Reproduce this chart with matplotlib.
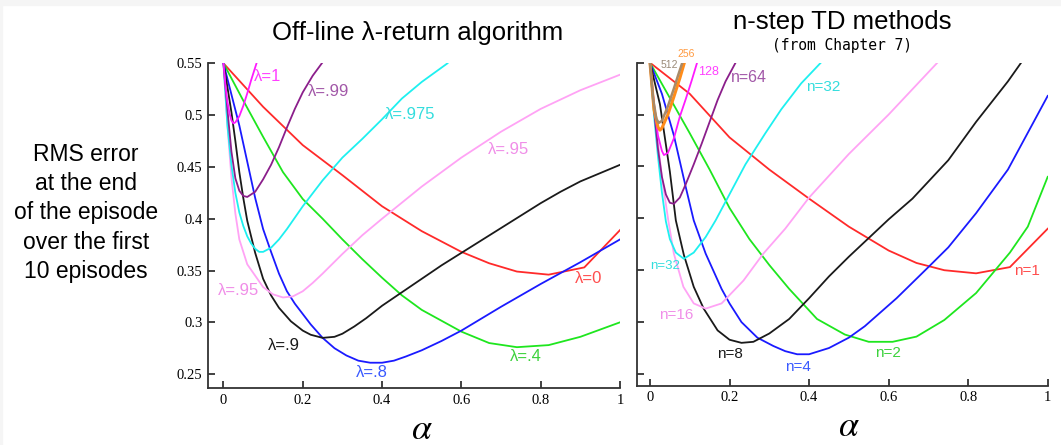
import matplotlib
matplotlib.use("Agg")
import matplotlib.pyplot as plt
from matplotlib.patches import Rectangle
from matplotlib.transforms import blended_transform_factory

# ---- data: off-line lambda-return (left panel) ----
lam0_x = [0, 0.1, 0.2, 0.3, 0.4, 0.5, 0.6, 0.67, 0.74, 0.82, 0.91, 1.0]
lam0_y = [0.55, 0.508, 0.471, 0.442, 0.412, 0.388, 0.368, 0.357, 0.349, 0.346, 0.353, 0.389]

lam04_x = [0, 0.05, 0.1, 0.15, 0.2, 0.25, 0.3, 0.35, 0.4, 0.45, 0.5, 0.6, 0.67, 0.74, 0.82, 0.9, 1.0]
lam04_y = [0.55, 0.514, 0.479, 0.445, 0.419, 0.400, 0.380, 0.361, 0.343, 0.326, 0.312, 0.291, 0.280, 0.276, 0.278, 0.286, 0.300]

lam08_x = [0, 0.02, 0.04, 0.06, 0.08, 0.1, 0.12, 0.14, 0.16, 0.18, 0.2, 0.22, 0.25, 0.28, 0.31, 0.34,
           0.37, 0.4, 0.43, 0.46, 0.5, 0.55, 0.6, 0.7, 0.8, 0.9, 1.0]
lam08_y = [0.55, 0.52, 0.49, 0.455, 0.42, 0.39, 0.368, 0.347, 0.330, 0.318, 0.308, 0.298, 0.285, 0.275, 0.268, 0.263,
           0.261, 0.261, 0.263, 0.267, 0.273, 0.282, 0.292, 0.315, 0.337, 0.358, 0.380]

lam09_x = [0, 0.01, 0.02, 0.03, 0.04, 0.05, 0.06, 0.08, 0.1, 0.12, 0.14, 0.17, 0.2, 0.22, 0.25, 0.28, 0.3,
           0.33, 0.36, 0.4, 0.45, 0.5, 0.55, 0.6, 0.65, 0.7, 0.75, 0.8, 0.85, 0.9, 0.95, 1.0]
lam09_y = [0.55, 0.527, 0.503, 0.475, 0.445, 0.42, 0.398, 0.367, 0.342, 0.326, 0.314, 0.301, 0.292, 0.288, 0.285, 0.286, 0.289,
           0.296, 0.304, 0.316, 0.329, 0.342, 0.355, 0.367, 0.379, 0.391, 0.403, 0.415, 0.426, 0.436, 0.444, 0.452]

lam095_x = [0, 0.01, 0.02, 0.03, 0.04, 0.06, 0.08, 0.1, 0.125, 0.15, 0.175, 0.2, 0.225, 0.25, 0.3, 0.35, 0.4, 0.5,
            0.6, 0.7, 0.8, 0.9, 1.0]
lam095_y = [0.55, 0.49, 0.44, 0.405, 0.38, 0.356, 0.345, 0.334, 0.327, 0.324, 0.325, 0.330, 0.338, 0.347, 0.366, 0.384,
            0.400, 0.431, 0.459, 0.484, 0.506, 0.524, 0.539]

lam0975_x = [0, 0.01, 0.02, 0.03, 0.04, 0.05, 0.06, 0.07, 0.08, 0.09, 0.1, 0.12, 0.14, 0.16, 0.18, 0.2, 0.25, 0.3, 0.35, 0.4, 0.45, 0.5, 0.565]
lam0975_y = [0.55, 0.49, 0.452, 0.425, 0.406, 0.393, 0.383, 0.376, 0.371, 0.368, 0.368, 0.372, 0.380, 0.390, 0.401, 0.412, 0.437, 0.459, 0.477, 0.496, 0.516, 0.532, 0.55]

lam099_x = [0, 0.01, 0.02, 0.03, 0.04, 0.05, 0.06, 0.08, 0.1, 0.12, 0.14, 0.16, 0.18, 0.2, 0.225, 0.25]
lam099_y = [0.55, 0.505, 0.465, 0.439, 0.427, 0.422, 0.421, 0.426, 0.438, 0.452, 0.469, 0.488, 0.506, 0.522, 0.538, 0.551]

lam1_x = [0, 0.005, 0.01, 0.015, 0.02, 0.025, 0.03, 0.04, 0.05, 0.06, 0.07, 0.085]
lam1_y = [0.55, 0.528, 0.513, 0.502, 0.495, 0.492, 0.493, 0.499, 0.509, 0.521, 0.534, 0.552]

# ---- data: n-step TD (right panel) ----
n1_x = [0, 0.1, 0.2, 0.3, 0.4, 0.5, 0.6, 0.67, 0.74, 0.82, 0.905, 1.0]
n1_y = [0.55, 0.52, 0.478, 0.447, 0.419, 0.392, 0.369, 0.357, 0.350, 0.347, 0.353, 0.390]

n2_x = [0, 0.05, 0.1, 0.15, 0.2, 0.25, 0.3, 0.35, 0.42, 0.49, 0.55, 0.61, 0.67, 0.74, 0.82, 0.905, 0.95, 1.0]
n2_y = [0.55, 0.516, 0.482, 0.447, 0.41, 0.38, 0.355, 0.332, 0.303, 0.288, 0.281, 0.281, 0.286, 0.302, 0.328, 0.367, 0.392, 0.44]

n4_x = [0, 0.03, 0.06, 0.09, 0.11, 0.14, 0.18, 0.2, 0.23, 0.27, 0.31, 0.34, 0.37, 0.4, 0.45, 0.5, 0.54, 0.62,
        0.7, 0.75, 0.82, 0.9, 1.0]
n4_y = [0.55, 0.52, 0.48, 0.43, 0.398, 0.366, 0.332, 0.318, 0.300, 0.285, 0.277, 0.272, 0.269, 0.269, 0.275, 0.285, 0.296, 0.323,
        0.353, 0.372, 0.405, 0.447, 0.518]

n8_x = [0, 0.025, 0.05, 0.065, 0.085, 0.11, 0.135, 0.17, 0.2, 0.23, 0.26, 0.3, 0.35, 0.4, 0.45, 0.5, 0.55,
        0.6, 0.66, 0.75, 0.82, 0.9, 0.935]
n8_y = [0.55, 0.51, 0.445, 0.398, 0.365, 0.334, 0.313, 0.292, 0.283, 0.280, 0.281, 0.289, 0.303, 0.323, 0.344, 0.363, 0.381,
        0.399, 0.419, 0.456, 0.493, 0.532, 0.551]

n16_x = [0, 0.015, 0.03, 0.046, 0.06, 0.084, 0.11, 0.14, 0.18, 0.235, 0.285, 0.34, 0.4, 0.5, 0.6, 0.725]
n16_y = [0.55, 0.49, 0.44, 0.398, 0.366, 0.334, 0.318, 0.313, 0.318, 0.340, 0.366, 0.390, 0.420, 0.462, 0.50, 0.551]

n32_x = [0, 0.01, 0.02, 0.03, 0.04, 0.05, 0.065, 0.085, 0.11, 0.14, 0.165, 0.19, 0.24, 0.29, 0.33, 0.38, 0.432]
n32_y = [0.55, 0.5, 0.46, 0.425, 0.397, 0.38, 0.367, 0.361, 0.367, 0.382, 0.398, 0.416, 0.452, 0.482, 0.505, 0.53, 0.551]

n64_x = [0, 0.01, 0.02, 0.03, 0.04, 0.05, 0.06, 0.075, 0.09, 0.11, 0.13, 0.15, 0.17, 0.19, 0.218]
n64_y = [0.55, 0.505, 0.467, 0.44, 0.423, 0.415, 0.414, 0.42, 0.433, 0.452, 0.472, 0.493, 0.514, 0.532, 0.552]

n128_x = [0, 0.01, 0.02, 0.03, 0.035, 0.045, 0.06, 0.075, 0.09, 0.105, 0.12]
n128_y = [0.55, 0.51, 0.48, 0.465, 0.461, 0.463, 0.477, 0.498, 0.515, 0.533, 0.552]

n256_x = [0, 0.01, 0.02, 0.025, 0.03, 0.045, 0.06, 0.075, 0.088]
n256_y = [0.55, 0.505, 0.488, 0.485, 0.487, 0.5, 0.517, 0.535, 0.552]

n512_x = [0, 0.008, 0.016, 0.022, 0.03, 0.045, 0.06, 0.07, 0.083]
n512_y = [0.55, 0.515, 0.496, 0.492, 0.494, 0.508, 0.525, 0.537, 0.552]

yticks = [0.25, 0.3, 0.35, 0.4, 0.45, 0.5, 0.55]
ytick_labels = ["0.25", "0.3", "0.35", "0.4", "0.45", "0.5", "0.55"]
xticks = [0, 0.2, 0.4, 0.6, 0.8, 1.0]
xtick_labels = ["0", "0.2", "0.4", "0.6", "0.8", "1"]

# curve labels: text, x, y
left_labels = [("λ=1", 0.11, 0.537), ("λ=.99", 0.265, 0.523), ("λ=.975", 0.471, 0.501),
               ("λ=.95", 0.72, 0.467), ("λ=.95", 0.038, 0.331), ("λ=0", 0.922, 0.342),
               ("λ=.9", 0.152, 0.278), ("λ=.8", 0.375, 0.252), ("λ=.4", 0.762, 0.267)]
right_labels = [("512", 0.049, 0.548), ("256", 0.092, 0.558), ("128", 0.147, 0.541),
                ("n=64", 0.25, 0.536), ("n=32", 0.436, 0.527), ("n=32", 0.038, 0.354),
                ("n=16", 0.067, 0.307), ("n=8", 0.201, 0.269), ("n=4", 0.373, 0.257),
                ("n=2", 0.599, 0.270), ("n=1", 0.947, 0.349)]

RED, GREEN, BLUE, BLACK = "#ff2a2a", "#1ee61e", "#1a1aff", "#1a1a1a"
PINK, CYAN, PURPLE, MAGENTA = "#ffa3f5", "#1ef0f0", "#8b1e8b", "#ff1aff"
ORANGE, TAN = "#ff8c1a", "#a88a68"

left_curves = [(lam0_x, lam0_y, RED), (lam04_x, lam04_y, GREEN), (lam08_x, lam08_y, BLUE),
               (lam09_x, lam09_y, BLACK), (lam095_x, lam095_y, PINK), (lam0975_x, lam0975_y, CYAN),
               (lam099_x, lam099_y, PURPLE), (lam1_x, lam1_y, MAGENTA)]
right_curves = [(n1_x, n1_y, RED, 1.3), (n2_x, n2_y, GREEN, 1.3), (n4_x, n4_y, BLUE, 1.3),
                (n8_x, n8_y, BLACK, 1.3), (n16_x, n16_y, PINK, 1.3), (n32_x, n32_y, CYAN, 1.3),
                (n64_x, n64_y, PURPLE, 1.3), (n128_x, n128_y, MAGENTA, 1.3),
                (n256_x, n256_y, ORANGE, 2.2), (n512_x, n512_y, TAN, 1.8)]

left_label_style = [("#ff40ff", 12), ("#a258a8", 12), ("#33dddd", 12), ("#f08ee8", 12), ("#f08ee8", 12),
                    ("#ff4d4d", 12), (BLACK, 12), ("#3a5aff", 12), ("#3cd23c", 12)]
right_label_style = [("#9a8a78", 7.5), ("#ff9a40", 7.5), ("#ff40ff", 9), ("#a258a8", 11.5),
                     ("#33dddd", 11), ("#33dddd", 9.5), ("#f08ee8", 11), (BLACK, 11),
                     ("#3a5aff", 11), ("#3cd23c", 11), ("#ff4d4d", 11)]

SANS = ["Liberation Sans", "DejaVu Sans"]
plt.rcParams["mathtext.fontset"] = "stix"

W, H = 1061, 445
fig = plt.figure(figsize=(W / 100, H / 100), dpi=100)
fig.patches.append(Rectangle((0, 1 - 5 / H), 1, 5 / H, transform=fig.transFigure, color="#f5f5f5", zorder=-1))
fig.patches.append(Rectangle((0, 0), 2 / W, 1, transform=fig.transFigure, color="#f5f5f5", zorder=-1))

ax1 = fig.add_axes([208 / W, (H - 388) / H, (620 - 208) / W, (388 - 63.3) / H])
ax2 = fig.add_axes([636.7 / W, (H - 385.7) / H, (1047.7 - 636.7) / W, (385.7 - 62.7) / H])


def style_axes(ax, xmin, ymin, show_ylabels):
    ax.set_xlim(xmin, 1.0)
    ax.set_ylim(ymin, 0.55)
    ax.patch.set_alpha(0)
    for s in ["top", "right"]:
        ax.spines[s].set_visible(False)
    for s in ["left", "bottom"]:
        ax.spines[s].set_color("#333333")
        ax.spines[s].set_linewidth(1.3)
    ax.spines["left"].set_bounds(ymin, 0.55)
    ax.set_xticks(xticks)
    ax.set_xticklabels(xtick_labels, family="Liberation Serif", fontsize=10.5)
    ax.set_yticks(yticks)
    if show_ylabels:
        ax.set_yticklabels(ytick_labels, family="Liberation Serif", fontsize=10.5)
    else:
        ax.set_yticklabels([])
    ax.tick_params(direction="in", length=5, width=1.3, color="#333333", pad=4)
    tr = blended_transform_factory(ax.transData, ax.transAxes)
    ax.text(0.5, -0.125, r"$\alpha$", transform=tr, ha="center", va="center", fontsize=26)


style_axes(ax1, -0.039, 0.2366, True)
style_axes(ax2, -0.0334, 0.2387, False)

for x, y, c in left_curves:
    ax1.plot(x, y, color=c, lw=1.3)
for x, y, c, lw in right_curves:
    ax2.plot(x, y, color=c, lw=lw)

for (t, x, y), (c, fs) in zip(left_labels, left_label_style):
    ax1.text(x, y, t, color=c, fontsize=fs, family=SANS, ha="center", va="center")
for (t, x, y), (c, fs) in zip(right_labels, right_label_style):
    ax2.text(x, y, t, color=c, fontsize=fs, family=SANS, ha="center", va="center")

fig.text(418 / W, 1 - 40 / H, "Off-line λ-return algorithm", family=SANS, fontsize=18.5,
         ha="center", va="baseline")
fig.text(842 / W, 1 - 29 / H, "n-step TD methods", family=SANS, fontsize=18.5,
         ha="center", va="baseline")
fig.text(842 / W, 1 - 50 / H, "(from Chapter 7)", family="DejaVu Sans Mono", fontsize=10.5,
         ha="center", va="baseline")
fig.text(86 / W, 1 - 213 / H, "RMS error\nat the end\nof the episode\nover the first\n10 episodes",
         family=SANS, fontsize=16.5, ha="center", va="center", multialignment="center",
         linespacing=1.35)

fig.savefig("out.png", dpi=100)
